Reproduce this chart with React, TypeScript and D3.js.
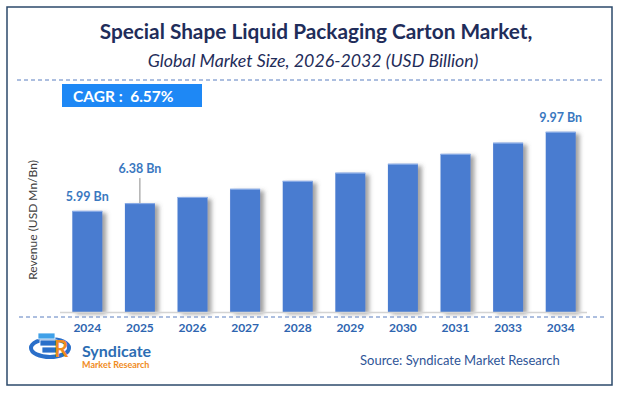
import React, { useEffect, useRef } from "react";
import * as d3 from "d3";

const years = ["2024", "2025", "2026", "2027", "2028", "2029", "2030", "2031", "2033", "2034"];
const revenue = [5.99, 6.38, 6.69, 7.1, 7.5, 7.91, 8.36, 8.86, 9.42, 9.97];
const valueLabels = ["5.99 Bn", "6.38 Bn", "", "", "", "", "", "", "", "9.97 Bn"];

const title = "Special Shape Liquid Packaging Carton Market,";
const subtitle = "Global Market Size, 2026-2032 (USD Billion)";
const cagrText = "CAGR :  6.57%";
const yTitle = "Revenue (USD Mn/Bn)";
const source = "Source: Syndicate Market Research";

const W = 623;
const H = 393;
const FONT = "Lato, 'Open Sans', sans-serif";

export default function App() {
  const ref = useRef<SVGSVGElement>(null);

  useEffect(() => {
    const svg = d3.select(ref.current);
    svg.selectAll("*").remove();

    const defs = svg.append("defs");
    const f = defs.append("filter").attr("id", "shadow")
      .attr("x", "-20%").attr("y", "-10%").attr("width", "160%").attr("height", "130%");
    f.append("feDropShadow").attr("dx", 4).attr("dy", 2).attr("stdDeviation", 2)
      .attr("flood-color", "#555").attr("flood-opacity", 0.55);

    svg.append("rect").attr("width", W).attr("height", H).attr("fill", "#fff");
    // frame
    svg.append("rect").attr("x", 7).attr("y", 7).attr("width", 605).attr("height", 378)
      .attr("fill", "none").attr("stroke", "#2c4a6b").attr("stroke-width", 1.5);

    svg.append("text").attr("x", 316).attr("y", 39).attr("text-anchor", "middle")
      .attr("font-family", FONT).attr("font-weight", "bold").attr("font-size", 20.8)
      .attr("fill", "#1f2d5a").text(title);
    svg.append("text").attr("x", 313).attr("y", 67).attr("text-anchor", "middle")
      .attr("font-family", FONT).attr("font-style", "italic").attr("font-size", 17.8)
      .attr("fill", "#1f2d5a").text(subtitle);

    svg.append("line").attr("x1", 17).attr("x2", 605).attr("y1", 80).attr("y2", 80)
      .attr("stroke", "#5b7fc0").attr("stroke-dasharray", "4 3");

    svg.append("rect").attr("x", 62).attr("y", 84).attr("width", 140).attr("height", 23)
      .attr("fill", "#1e88f5");
    svg.append("text").attr("x", 73).attr("y", 102).attr("font-family", FONT)
      .attr("font-weight", "bold").attr("font-size", 15.5).attr("fill", "#fff")
      .attr("xml:space", "preserve").text(cagrText);

    const x = d3.scaleBand().domain(years).range([61, 587]).paddingInner(0.43).paddingOuter(0.215);
    const y = d3.scaleLinear().domain([0.9, 10]).range([312, 131.2]);

    svg.append("g").selectAll("rect").data(revenue).join("rect")
      .attr("x", (_, i) => x(years[i])!)
      .attr("y", (d) => y(d))
      .attr("width", x.bandwidth())
      .attr("height", (d) => y(0.9) - y(d))
      .attr("fill", "#4a7bd0")
      .attr("filter", "url(#shadow)");
    svg.append("g").selectAll("line").data(revenue).join("line")
      .attr("x1", (_, i) => x(years[i])!)
      .attr("x2", (_, i) => x(years[i])! + x.bandwidth())
      .attr("y1", (d) => y(d) + 0.5).attr("y2", (d) => y(d) + 0.5)
      .attr("stroke", "#8fb0e8").attr("stroke-width", 1);

    svg.append("line").attr("x1", 60).attr("x2", 587).attr("y1", 312.5).attr("y2", 312.5)
      .attr("stroke", "#d4d4d4").attr("stroke-width", 1.5);
    svg.append("line").attr("x1", 19).attr("x2", 605).attr("y1", 317).attr("y2", 317)
      .attr("stroke", "#5b7fc0").attr("stroke-dasharray", "4 3");

    // value labels
    revenue.forEach((v, i) => {
      if (!valueLabels[i]) return;
      const cx = x(years[i])! + x.bandwidth() / 2;
      const lifted = i === 1;
      const base = lifted ? y(v) - 30 : y(v) - 10;
      svg.append("text").attr("x", cx).attr("y", base).attr("text-anchor", "middle")
        .attr("font-family", FONT).attr("font-weight", "bold").attr("font-size", 12.5)
        .attr("fill", "#3a78c0").text(valueLabels[i]);
      if (lifted) {
        svg.append("line").attr("x1", cx).attr("x2", cx).attr("y1", base + 5).attr("y2", y(v))
          .attr("stroke", "#8a8a8a").attr("stroke-width", 1);
      }
    });

    svg.append("g").selectAll("text").data(years).join("text")
      .attr("x", (d) => x(d)! + x.bandwidth() / 2)
      .attr("y", 332)
      .attr("text-anchor", "middle")
      .attr("font-family", FONT).attr("font-weight", "bold").attr("font-size", 12)
      .attr("fill", "#2e65b0").text((d) => d);

    svg.append("text").attr("transform", "translate(37,220) rotate(-90)")
      .attr("text-anchor", "middle").attr("font-family", FONT).attr("font-size", 12)
      .attr("fill", "#404040").text(yTitle);

    // logo
    const logo = svg.append("g");
    logo.append("ellipse").attr("cx", 50).attr("cy", 348).attr("rx", 19).attr("ry", 9)
      .attr("fill", "none").attr("stroke", "#2a6fc9").attr("stroke-width", 4);
    [0, 1, 2].forEach((k) => {
      logo.append("rect").attr("x", 38 + k * 2).attr("y", 333 + k * 7).attr("width", 17).attr("height", 6)
        .attr("fill", k === 0 ? "#3fa0e8" : "#2a6fc9").attr("stroke", "#fff").attr("stroke-width", 0.8);
    });
    logo.append("text").attr("x", 54).attr("y", 357).attr("font-family", FONT)
      .attr("font-weight", "bold").attr("font-size", 22).attr("fill", "#f08c1e").text("R");
    logo.append("text").attr("x", 82).attr("y", 357).attr("font-family", FONT)
      .attr("font-weight", "bold").attr("font-size", 16).attr("fill", "#2c6db3").text("Syndicate");
    logo.append("text").attr("x", 82).attr("y", 368).attr("font-family", FONT)
      .attr("font-weight", "bold").attr("font-size", 9).attr("fill", "#f08c1e").text("Market Research");

    svg.append("text").attr("x", 360).attr("y", 365).attr("font-family", FONT)
      .attr("font-size", 13).attr("fill", "#2f5597").text(source);
  }, []);

  return (
    <svg ref={ref} width={W} height={H} style={{ position: "absolute", left: 0, top: 0 }} />
  );
}
